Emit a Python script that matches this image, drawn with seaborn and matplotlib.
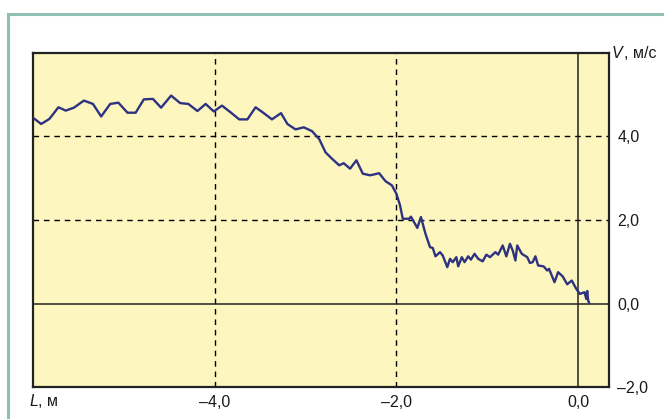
import matplotlib
matplotlib.use("Agg")
import matplotlib.pyplot as plt
from matplotlib.lines import Line2D
import seaborn as sns
import pandas as pd

# Distance L, m and velocity V, m/s along the track
L_m = [-6.00, -5.91, -5.82, -5.72, -5.64, -5.55, -5.44, -5.34, -5.25, -5.15,
       -5.06, -4.96, -4.87, -4.78, -4.68, -4.59, -4.48, -4.38, -4.29, -4.19,
       -4.10, -4.01, -3.92, -3.82, -3.73, -3.64, -3.55, -3.46, -3.37, -3.27,
       -3.20, -3.11, -3.02, -2.93, -2.85, -2.78, -2.71, -2.63, -2.58, -2.51,
       -2.44, -2.37, -2.29, -2.19, -2.12, -2.05, -2.00, -1.96, -1.93, -1.86,
       -1.84, -1.77, -1.73, -1.68, -1.63, -1.60, -1.57, -1.52, -1.49, -1.44,
       -1.41, -1.38, -1.34, -1.32, -1.28, -1.25, -1.21, -1.18, -1.14, -1.10,
       -1.05, -1.01, -0.97, -0.91, -0.88, -0.83, -0.79, -0.75, -0.72, -0.69,
       -0.67, -0.62, -0.56, -0.53, -0.50, -0.47, -0.44, -0.38, -0.34, -0.32,
       -0.26, -0.22, -0.17, -0.12, -0.07, -0.02, 0.02, 0.07, 0.09, 0.10,
       0.11, 0.12]
V_ms = [4.45, 4.30, 4.42, 4.70, 4.62, 4.69, 4.86, 4.78, 4.48, 4.78,
        4.81, 4.57, 4.57, 4.89, 4.90, 4.69, 4.98, 4.80, 4.78, 4.61,
        4.78, 4.60, 4.74, 4.57, 4.41, 4.41, 4.70, 4.56, 4.41, 4.56,
        4.30, 4.17, 4.22, 4.13, 3.94, 3.62, 3.47, 3.31, 3.36, 3.23,
        3.43, 3.11, 3.07, 3.12, 2.93, 2.83, 2.63, 2.35, 2.03, 2.03,
        2.08, 1.81, 2.07, 1.67, 1.35, 1.33, 1.13, 1.23, 1.15, 0.87,
        1.07, 0.99, 1.11, 0.89, 1.11, 0.99, 1.13, 1.05, 1.19, 1.07,
        1.01, 1.17, 1.11, 1.23, 1.17, 1.39, 1.13, 1.43, 1.27, 1.03,
        1.39, 1.19, 1.11, 0.97, 0.99, 1.13, 0.91, 0.89, 0.79, 0.83,
        0.51, 0.75, 0.65, 0.46, 0.55, 0.35, 0.23, 0.27, 0.11, 0.30,
        0.08, 0.02]

x_ticks = [-4.0, -2.0, 0.0]
x_tick_labels = ["–4,0", "–2,0", "0,0"]
y_ticks = [-2.0, 0.0, 2.0, 4.0]
y_tick_labels = ["–2,0", "0,0", "2,0", "4,0"]

df = pd.DataFrame({"L": L_m, "V": V_ms})

FONT = ["Liberation Sans Narrow", "Liberation Sans", "DejaVu Sans"]
plt.rcParams["font.family"] = FONT

W, H = 664, 419
fig = plt.figure(figsize=(W / 100, H / 100), dpi=100)
fig.patch.set_facecolor("white")

ax = fig.add_axes([33 / W, 1 - 387 / H, (609 - 33) / W, (387 - 53) / H])
ax.set_facecolor("#fdf6bf")

# reference lines: dashed grid and solid zero axes
for xv in (-4.0, -2.0):
    ax.axvline(xv, color="black", lw=1.0, ls=(0, (4, 3.5)), zorder=1)
for yv in (2.0, 4.0):
    ax.axhline(yv, color="black", lw=1.0, ls=(0, (4, 3.5)), zorder=1)
ax.axvline(0.0, color="#222222", lw=1.1, zorder=1)
ax.axhline(0.0, color="#222222", lw=1.1, zorder=1)

sns.lineplot(data=df, x="L", y="V", ax=ax, color="#2e3381", lw=1.7,
             sort=False, zorder=3)

ax.set_xlim(-6.0, 0.34)
ax.set_ylim(-2.0, 6.0)
ax.set_xlabel("")
ax.set_ylabel("")

ax.set_xticks(x_ticks)
ax.set_xticklabels(x_tick_labels)
ax.yaxis.tick_right()
ax.set_yticks(y_ticks)
ax.set_yticklabels(y_tick_labels)
ax.tick_params(axis="both", length=0, labelsize=11.5, colors="#1a1a1a")
ax.tick_params(axis="x", pad=6)
ax.tick_params(axis="y", pad=6)

for s in ax.spines.values():
    s.set_linewidth(1.6)
    s.set_color("#222222")

# axis titles
fig.text(612 / W, 1 - 53 / H, "V", style="italic", fontsize=11.5,
         ha="left", va="center", color="#1a1a1a")
fig.text(624 / W, 1 - 53 / H, ", м/с", fontsize=11.5,
         ha="left", va="center", color="#1a1a1a")
fig.text(29 / W, 1 - 401 / H, "L", style="italic", fontsize=11.5,
         ha="left", va="center", color="#1a1a1a")
fig.text(38 / W, 1 - 401 / H, ", м", fontsize=11.5,
         ha="left", va="center", color="#1a1a1a")

# teal panel border
border = "#8fc0b3"
fig.add_artist(Line2D([8 / W, 1.0], [1 - 14 / H, 1 - 14 / H],
                      transform=fig.transFigure, color=border, lw=2.2))
fig.add_artist(Line2D([8 / W, 8 / W], [1 - 14 / H, 0.0],
                      transform=fig.transFigure, color=border, lw=2.2))

fig.savefig("out.png", dpi=100)
